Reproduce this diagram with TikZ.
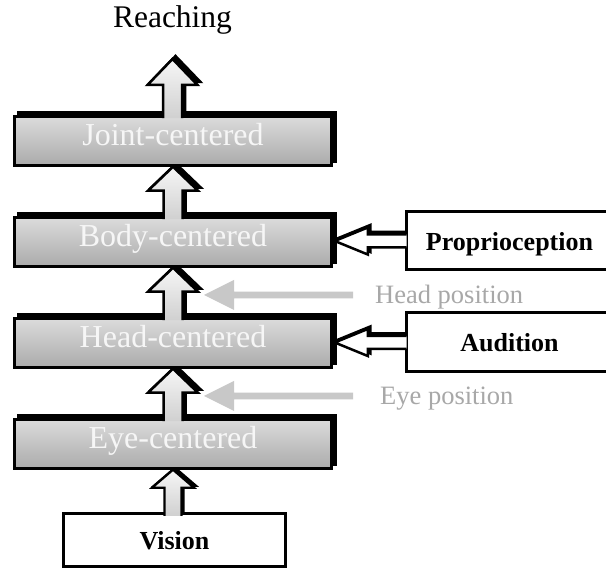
\documentclass[tikz,border=0pt]{standalone}
\usepackage{fontspec}
\setmainfont{Liberation Serif}
\usetikzlibrary{calc}
\pgfdeclarelayer{bg}
\pgfsetlayers{bg,main}
\definecolor{boxtop}{HTML}{DCDCDC}
\definecolor{boxbot}{HTML}{ABABAB}
\definecolor{arrtop}{HTML}{F6F6F6}
\definecolor{arrbot}{HTML}{D0D0D0}
\definecolor{labgray}{HTML}{A8A8A8}
\definecolor{pointgray}{HTML}{C8C8C8}
\definecolor{boxtext}{HTML}{F6F6F6}

% upward block arrow: #1 base, #2 tip, #3 shaft half width, #4 head half width, #5 head length, #6 offset (up-right)
\newcommand\upblk[6]{let \p1=($(#1)+(#6,-#6)$), \p2=($(#2)+(#6,-#6)$) in (\x2-#3pt,\y1) -- (\x2-#3pt,\y2-#5pt) -- (\x2-#4pt,\y2-#5pt) -- (\x2,\y2) -- (\x2+#4pt,\y2-#5pt) -- (\x2+#3pt,\y2-#5pt) -- (\x2+#3pt,\y1)}
% leftward block arrow: #1 base (right), #2 tip (left)
\newcommand\leftblk[6]{let \p1=($(#1)+(#6,-#6)$), \p2=($(#2)+(#6,-#6)$) in (\x1,\y2+#3pt) -- (\x2+#5pt,\y2+#3pt) -- (\x2+#5pt,\y2+#4pt) -- (\x2,\y2) -- (\x2+#5pt,\y2-#4pt) -- (\x2+#5pt,\y2-#3pt) -- (\x1,\y2-#3pt)}

\newcommand\varrow[7]{%
  \begin{pgfonlayer}{bg}
    \path[fill=black,draw=black,line width=#6pt] \upblk{#1}{#2}{#3}{#4}{#5}{#7} -- cycle;
  \end{pgfonlayer}
  \path[top color=arrtop,bottom color=arrbot] \upblk{#1}{#2}{#3}{#4}{#5}{0} -- cycle;
  \draw[line width=#6pt] \upblk{#1}{#2}{#3}{#4}{#5}{0};}
\newcommand\harrow[7]{%
  \begin{pgfonlayer}{bg}
    \path[fill=black,draw=black,line width=#6pt] \leftblk{#1}{#2}{#3}{#4}{#5}{#7} -- cycle;
  \end{pgfonlayer}
  \path[fill=white] \leftblk{#1}{#2}{#3}{#4}{#5}{0} -- cycle;
  \draw[line width=#6pt] \leftblk{#1}{#2}{#3}{#4}{#5}{0};}

\tikzset{
  layerbox/.style={draw=black,line width=2.5pt,top color=boxtop,bottom color=boxbot,
    minimum width=317pt,minimum height=49pt,inner sep=0pt,text=boxtext,
    font=\fontsize{32}{36}\selectfont,text height=17pt,text depth=8pt},
  sensebox/.style={draw=black,line width=3pt,fill=white,inner sep=0pt,
    font=\bfseries\fontsize{26}{30}\selectfont,text height=20pt,text depth=1pt},
  poslabel/.style={text=labgray,font=\fontsize{26.5}{30}\selectfont,inner sep=0pt,anchor=base west},
}

\begin{document}
\begin{tikzpicture}[x=1pt,y=-1pt]
\useasboundingbox (0,0) rectangle (606,569);
\clip (0,0) rectangle (606,569);

% layers of representation
\node[layerbox] (joint) at (173,141) {Joint-centered};
\node[layerbox] (body) at (173,242) {Body-centered};
\node[layerbox] (head) at (173,343) {Head-centered};
\node[layerbox] (eye) at (173,444) {Eye-centered};

% sensory inputs
\node[sensebox,minimum width=207pt,minimum height=58pt] (prop) at (509.5,241) {Proprioception};
\node[sensebox,minimum width=207pt,minimum height=59pt] (aud) at (509.5,342.5) {Audition};
\node[sensebox,minimum width=222pt,minimum height=53pt] (vis) at (174.5,540.5) {Vision};

% texts
\node[font=\fontsize{31.5}{36}\selectfont,anchor=base,inner sep=0pt] (reach) at (172.5,28) {Reaching};
\node[poslabel] (hp) at (375,303.3) {Head position};
\node[poslabel] (ep) at (380,405) {Eye position};

% box shadows (offset up and right)
\begin{pgfonlayer}{bg}
  \fill[white] (0,0) rectangle (606,569);
  \foreach \b in {joint,body,head,eye}
    \fill[black] ($(\b.south west)+(4,-4)$) rectangle ($(\b.north east)+(4,-4)$);
\end{pgfonlayer}

% arrow ends
\coordinate (reachtip) at ($(reach.south)+(0,24)$);
\coordinate (jbase) at ($(joint.north)+(0,3)$);
\coordinate (bbase) at ($(body.north)+(0,3)$);
\coordinate (hbase) at ($(head.north)+(0,3)$);
\coordinate (ebase) at ($(eye.north)+(0,3)$);
\coordinate (vbase) at ($(vis.north)+(0,3.5)$);
\coordinate (pbase) at ($(prop.west)+(2,0)$);
\coordinate (abase) at ($(aud.west)+(2,0)$);
\coordinate (proptip) at ($(body.east |- prop.west)+(2,0)$);
\coordinate (audtip) at ($(head.east |- aud.west)+(2,0)$);
\coordinate (hptip) at ($(head.north)!0.45!(body.south)+(31,0)$);
\coordinate (eptip) at ($(eye.north)!0.45!(head.south)+(31,0)$);
\coordinate (hpbase) at ($(hp.west)+(-22,0)$);
\coordinate (epbase) at ($(ep.west)+(-27,0)$);

% upward arrows
\varrow{jbase}{reachtip}{9.5}{25}{26}{2.5}{3}
\varrow{bbase}{joint.south}{9.5}{25}{24}{2.5}{3}
\varrow{hbase}{body.south}{9.5}{25}{24}{2.5}{3}
\varrow{ebase}{head.south}{9.5}{25}{24}{2.5}{3}
\varrow{vbase}{eye.south}{8.5}{21}{18}{2.2}{2}

% leftward arrows from the senses
\harrow{pbase}{proptip}{6.5}{13.5}{33}{2.5}{2.5}
\harrow{abase}{audtip}{6.5}{13.5}{33}{2.5}{2.5}

% gray position arrows
\fill[pointgray] \leftblk{hpbase}{hptip}{3.3}{15}{30}{0} -- cycle;
\fill[pointgray] \leftblk{epbase}{eptip}{3.3}{15}{30}{0} -- cycle;
\end{tikzpicture}
\end{document}
